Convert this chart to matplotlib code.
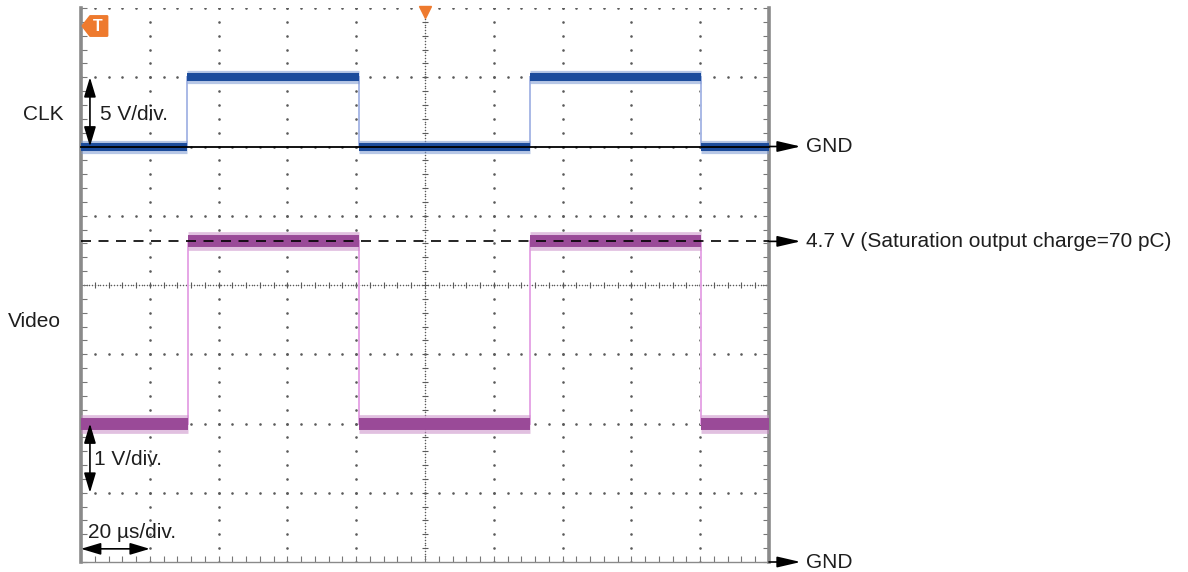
import numpy as np
import matplotlib.pyplot as plt
from matplotlib.patches import Polygon

# ── Data ──────────────────────────────────────────────────────────────────
TIME_SPAN_US = 200                              # 10 div x 20 us/div
N_DIV_Y = 8

CLK_EDGES_US = [30.8, 80.9, 130.5, 180.3]       # rise, fall, rise, fall
CLK_LEVELS_V = [0.0, 5.0]                       # low, high
CLK_V_PER_DIV = 5.0
CLK_GND_DIV = 6.0

VIDEO_EDGES_US = [31.0, 80.9, 130.5, 180.3]
VIDEO_LEVELS_V = [2.0, 4.63]
VIDEO_V_PER_DIV = 1.0
VIDEO_GND_DIV = 0.0
SATURATION_V = 4.63

# ── Style ─────────────────────────────────────────────────────────────────
CLK_CORE, CLK_FRINGE, CLK_EDGE = "#1c4c9c", "#7d99d2", "#a9b9e6"
VID_CORE, VID_FRINGE, VID_EDGE = "#9a4a98", "#c98dc7", "#e6a6e6"
GRID_C = "#5a5a5a"
ORANGE = "#ee7a2e"
FS = 15

plt.rcParams.update({
    "font.family": ["Liberation Sans", "DejaVu Sans"],
    "font.size": FS,
    "text.color": "#1e1e1e",
})


def segments(edges, levels):
    bounds = [0] + list(edges) + [TIME_SPAN_US]
    return [(bounds[i], bounds[i + 1], levels[i % 2]) for i in range(len(bounds) - 1)]


def draw_trace(ax, edges, levels, gnd, vdiv, core, fringe, edge, core_lw, fringe_lw):
    to_div = lambda v: gnd + v / vdiv
    for t0, t1, lv in segments(edges, levels):
        y = to_div(lv)
        ax.plot([t0, t1], [y, y], color=fringe, lw=fringe_lw, alpha=0.55,
                solid_capstyle="butt", zorder=3)
        ax.plot([t0, t1], [y, y], color=core, lw=core_lw,
                solid_capstyle="butt", zorder=4)
    for e in edges:
        ax.plot([e, e], [to_div(levels[0]), to_div(levels[1])], color=edge,
                lw=1.4, zorder=2.5)


fig = plt.figure(figsize=(11.88, 5.72), dpi=100)
ax = fig.add_axes([81 / 1188, 10 / 572, 688 / 1188, 554 / 572])
ax.set_xlim(0, TIME_SPAN_US)
ax.set_ylim(0, N_DIV_Y)

# ── Graticule ─────────────────────────────────────────────────────────────
x_minor = np.arange(0, TIME_SPAN_US + 0.1, TIME_SPAN_US / 50)
y_minor = np.arange(0, N_DIV_Y + 0.01, 0.2)
for xm in np.arange(20, TIME_SPAN_US, 20):
    if xm == 100:
        continue
    ax.scatter(np.full_like(y_minor, xm), y_minor, s=3.5, color=GRID_C, lw=0, zorder=1)
for ym in range(1, N_DIV_Y + 1):
    if ym == 4:
        continue
    ax.scatter(x_minor, np.full_like(x_minor, ym), s=3.5, color=GRID_C, lw=0, zorder=1)

# centre cross-hair with minor tick marks
x_dense = np.arange(0, TIME_SPAN_US, TIME_SPAN_US / 250)
y_dense = np.arange(0, N_DIV_Y, N_DIV_Y / 200)
ax.scatter(x_dense, np.full_like(x_dense, 4), s=1.2, color=GRID_C, lw=0, zorder=1)
ax.scatter(np.full_like(y_dense, 100), y_dense, s=1.2, color=GRID_C, lw=0, zorder=1)
ax.plot(x_minor, np.full_like(x_minor, 4), ls="none", marker="|", ms=5,
        mew=0.8, color=GRID_C, zorder=1)
ax.plot(np.full_like(y_minor, 100), y_minor, ls="none", marker="_", ms=5,
        mew=0.8, color=GRID_C, zorder=1)

for side in ("left", "right"):
    ax.spines[side].set_linewidth(2.6)
    ax.spines[side].set_color("#8a8a8a")
ax.spines["bottom"].set_linewidth(1.0)
ax.spines["bottom"].set_color("#8a8a8a")
ax.spines["top"].set_visible(False)
ax.set_xticks(x_minor)
ax.set_yticks(y_minor)
ax.tick_params(direction="in", length=4, width=0.8, color="#777777",
               labelbottom=False, labelleft=False, left=True, right=True,
               bottom=True, top=False)

# ── Traces ────────────────────────────────────────────────────────────────
draw_trace(ax, CLK_EDGES_US, CLK_LEVELS_V, CLK_GND_DIV, CLK_V_PER_DIV,
           CLK_CORE, CLK_FRINGE, CLK_EDGE, core_lw=5.8, fringe_lw=9.5)
draw_trace(ax, VIDEO_EDGES_US, VIDEO_LEVELS_V, VIDEO_GND_DIV, VIDEO_V_PER_DIV,
           VID_CORE, VID_FRINGE, VID_EDGE, core_lw=8.6, fringe_lw=13.5)

# GND reference line of CLK and saturation level
ax.plot([0, TIME_SPAN_US], [CLK_GND_DIV, CLK_GND_DIV], color="black", lw=1.3,
        zorder=6, clip_on=False)
sat_div = VIDEO_GND_DIV + SATURATION_V / VIDEO_V_PER_DIV
ax.plot([0, TIME_SPAN_US], [sat_div, sat_div], color="black", lw=1.2,
        ls=(0, (6, 4.5)), zorder=6, clip_on=False)

# ── Annotations ───────────────────────────────────────────────────────────
head = dict(color="black", lw=1.2, shrinkA=0, shrinkB=0, mutation_scale=15)
x_tip = 209.2
for y in (CLK_GND_DIV, VIDEO_GND_DIV, sat_div):
    ax.annotate("", xy=(x_tip, y), xytext=(TIME_SPAN_US, y),
                arrowprops=dict(arrowstyle="-|>,head_length=0.95,head_width=0.22", **head),
                annotation_clip=False)
ax.text(210.8, CLK_GND_DIV, "GND", va="center", ha="left")
ax.text(210.8, VIDEO_GND_DIV, "GND", va="center", ha="left")
ax.text(210.8, sat_div, f"{4.7} V (Saturation output charge=70 pC)",
        va="center", ha="left")

ax.text(-11.1, 6.455, "CLK", ha="center", va="center")
ax.text(-13.4, 3.466, "Video", ha="center", va="center")

dbl = "<|-|>,head_length=0.8,head_width=0.24"
ax.annotate("", xy=(2.6, CLK_GND_DIV + 1), xytext=(2.6, CLK_GND_DIV),
            arrowprops=dict(arrowstyle=dbl, **head), annotation_clip=False, zorder=7)
ax.text(5.4, 6.455, f"{CLK_V_PER_DIV:g} V/div.", ha="left", va="center")

ax.annotate("", xy=(2.6, VIDEO_LEVELS_V[0]), xytext=(2.6, VIDEO_LEVELS_V[0] - 1),
            arrowprops=dict(arrowstyle=dbl, **head), annotation_clip=False, zorder=7)
ax.text(3.9, 1.473, f"{VIDEO_V_PER_DIV:g} V/div.", ha="left", va="center")

ax.annotate("", xy=(20, 0.19), xytext=(0, 0.19),
            arrowprops=dict(arrowstyle=dbl, **head), annotation_clip=False, zorder=7)
ax.text(1.9, 0.433, "20 µs/div.", ha="left", va="center")

# trigger markers
ax.add_patch(Polygon([(0.5, 7.74), (2.7, 7.88), (7.6, 7.88), (7.6, 7.60), (2.7, 7.60)],
                     closed=True, fc=ORANGE, ec=ORANGE, lw=1.8, joinstyle="round",
                     zorder=8, clip_on=False))
ax.text(4.9, 7.735, "T", color="white", fontsize=11.5, fontweight="bold",
        ha="center", va="center", zorder=9)
ax.plot(100, 7.94, marker="v", ms=8, color=ORANGE, clip_on=False, zorder=8)

fig.savefig("out.png", dpi=100)
